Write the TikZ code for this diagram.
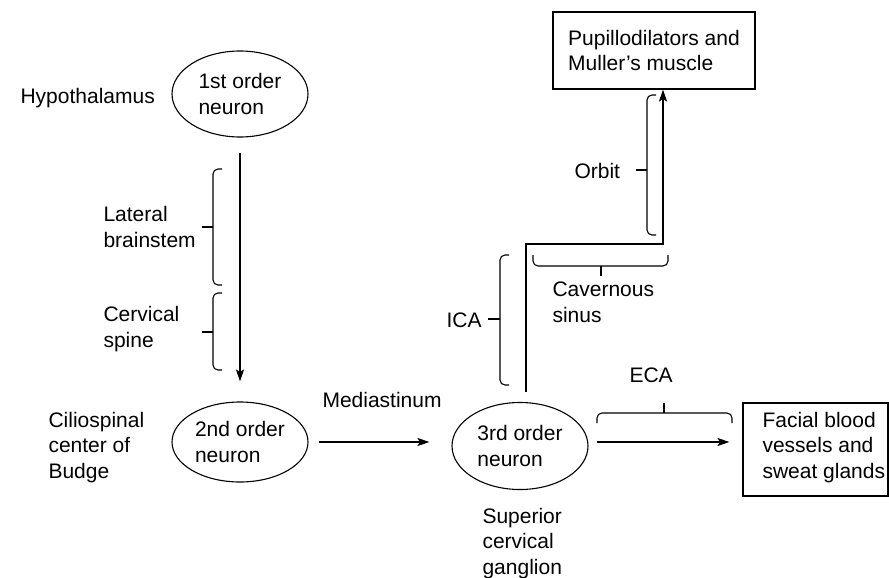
\documentclass[tikz,border=0pt]{standalone}
\usepackage{fontspec}
\setmainfont{Liberation Sans}
\usetikzlibrary{shapes.geometric,arrows.meta}

\begin{document}
\begin{tikzpicture}[x=1pt,y=-1pt,
  line width=1.1pt,
  every node/.style={font={\fontsize{21pt}{25.5pt}\selectfont}, inner sep=0pt},
  % multi-line labels are placed by the baseline of their last line
  lbl/.style={align=left, anchor=base west},
  neuron/.style={draw, ellipse, align=left, minimum width=136pt},
  organ/.style={draw, rectangle},
  flow/.style={-{Stealth[length=12pt,width=8pt,inset=2.5pt]}},
  bracket/.style={rounded corners=5pt}]
\useasboundingbox (0,0) rectangle (889,578);

% neurons
\node[neuron, minimum height=86pt] (n1) at (240,94) {1st order\\neuron};
\node[neuron, minimum height=80pt] (n2) at (240,442) {2nd order\\neuron};
\node[neuron, minimum height=87pt] (n3) at (520,446) {3rd order\\neuron};

% target organs
\node[organ, align=left, minimum width=202pt, minimum height=77pt] (pup) at (654,50.5)
  {Pupillodilators and\\Muller's muscle};
\node[organ, minimum width=145pt, minimum height=93pt] (fac) at (815.5,449.5) {};
\node[lbl] (facT) at (762,478) {Facial blood\\vessels and\\sweat glands};

% anatomical labels
\node[lbl] (hyp) at (20,103) {Hypothalamus};
\node[lbl] (lat) at (103,247) {Lateral\\brainstem};
\node[lbl] (cerv) at (103,347) {Cervical\\spine};
\node[lbl] (cil) at (48,478) {Ciliospinal\\center of\\Budge};
\node[lbl] (med) at (322,407) {Mediastinum};
\node[lbl] (ica) at (446,327) {ICA};
\node[lbl] (cav) at (552,322) {Cavernous\\sinus};
\node[lbl] (orb) at (574,178) {Orbit};
\node[lbl] (eca) at (629,382) {ECA};
\node[lbl] (scg) at (482,574) {Superior\\cervical\\ganglion};

% pathway
\draw[flow, shorten <=15pt, shorten >=20pt] (n1) -- (n2);
\draw[flow, shorten <=10pt, shorten >=22pt] (n2.east) -- (n2.east -| n3.west);
\coordinate (icaStart) at (526,392);
\coordinate (orbFoot) at (663,244);
\draw[flow] (icaStart) |- (orbFoot) -- (orbFoot |- pup.south);
\coordinate (ecaStart) at (597,442);
\draw[flow, shorten >=13pt] (ecaStart) -- (ecaStart -| fac.west);

% brackets
\draw[bracket] (222,169) -- (213,169) -- (213,285) -- (222,285);
\draw (213,227) -- (202,227);
\draw[bracket] (222,293) -- (213,293) -- (213,370) -- (222,370);
\draw (213,332) -- (202,332);
\draw[bracket] (509,255) -- (500,255) -- (500,385) -- (509,385);
\draw (500,319) -- (488,319);
\draw[bracket] (533,255) -- (533,266) -- (668,266) -- (668,255);
\draw (601,266) -- (601,276);
\draw[bracket] (656,95) -- (647,95) -- (647,235) -- (656,235);
\draw (647,170) -- (636,170);
\draw[bracket] (597,423) -- (597,413) -- (732,413) -- (732,423);
\draw (664,413) -- (664,403);
\end{tikzpicture}
\end{document}
